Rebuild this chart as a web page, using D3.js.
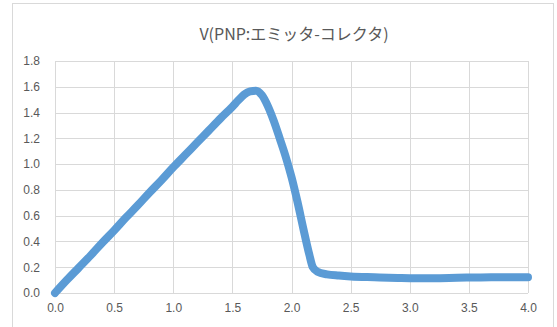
<!DOCTYPE html>
<html>
<head>
<meta charset="utf-8">
<script src="https://cdn.jsdelivr.net/npm/d3@7/dist/d3.min.js"></script>
<style>
  html, body { margin: 0; padding: 0; background: #fff; }
  svg { display: block; }
</style>
</head>
<body>
<script>
// Emitter-collector voltage of the PNP transistor vs. sweep value
const sweepX = [0.0, 0.1, 0.2, 0.3, 0.4, 0.5, 0.6, 0.7, 0.8, 0.9, 1.0, 1.1, 1.2, 1.3, 1.4, 1.5,
  1.55, 1.6, 1.65, 1.7, 1.75, 1.8, 1.85, 1.9, 1.95, 2.0, 2.05, 2.1, 2.15, 2.18, 2.22, 2.3,
  2.4, 2.5, 2.7, 2.9, 3.0, 3.2, 3.4, 3.6, 3.8, 4.0];
const vEC = [0.0, 0.10, 0.195, 0.29, 0.39, 0.485, 0.585, 0.68, 0.78, 0.875, 0.975, 1.07, 1.165, 1.26, 1.355, 1.445,
  1.495, 1.54, 1.565, 1.57, 1.535, 1.45, 1.335, 1.20, 1.06, 0.90, 0.71, 0.50, 0.30, 0.20, 0.165, 0.145,
  0.135, 0.128, 0.122, 0.117, 0.115, 0.115, 0.118, 0.121, 0.122, 0.123];
const xTicks = [0.0, 0.5, 1.0, 1.5, 2.0, 2.5, 3.0, 3.5, 4.0];
const yTicks = [0.0, 0.2, 0.4, 0.6, 0.8, 1.0, 1.2, 1.4, 1.6, 1.8];
const titleText = "V(PNP:エミッタ-コレクタ)";

const W = 557, H = 327;
const plot = { left: 55, right: 528, top: 61, bottom: 293 };

const svg = d3.select("body").append("svg").attr("width", W).attr("height", H);

// chart frame
svg.append("rect")
  .attr("x", 12.5).attr("y", 3.5).attr("width", 541).attr("height", 340)
  .attr("fill", "#fff").attr("stroke", "#d9d9d9").attr("stroke-width", 1);

const x = d3.scaleLinear().domain([0, 4]).range([plot.left, plot.right]);
const y = d3.scaleLinear().domain([0, 1.8]).range([plot.bottom, plot.top]);

// vertical gridlines + x tick labels
const xAxis = d3.axisBottom(x).tickValues(xTicks).tickFormat(d3.format(".1f"))
  .tickSize(-(plot.bottom - plot.top)).tickPadding(10);
const gx = svg.append("g").attr("transform", `translate(0,${plot.bottom})`).call(xAxis);

// horizontal gridlines + y tick labels
const yAxis = d3.axisLeft(y).tickValues(yTicks).tickFormat(d3.format(".1f"))
  .tickSize(-(plot.right - plot.left)).tickPadding(15);
const gy = svg.append("g").attr("transform", `translate(${plot.left},0)`).call(yAxis);

[gx, gy].forEach(g => {
  g.select(".domain").remove();
  g.selectAll(".tick line").attr("stroke", "#d9d9d9").attr("stroke-width", 1)
    .attr("shape-rendering", "crispEdges");
  g.selectAll(".tick text")
    .attr("fill", "#595959")
    .style("font-family", "'Liberation Sans', Arial, sans-serif")
    .style("font-size", "12px");
});

// data line
const pts = sweepX.map((v, i) => [v, vEC[i]]);
const line = d3.line().x(d => x(d[0])).y(d => y(d[1])).curve(d3.curveMonotoneX);
svg.append("path")
  .datum(pts)
  .attr("d", line)
  .attr("fill", "none")
  .attr("stroke", "#5b9bd5")
  .attr("stroke-width", 8)
  .attr("stroke-linecap", "round")
  .attr("stroke-linejoin", "round");

// title
svg.append("text")
  .attr("x", 294).attr("y", 40)
  .attr("text-anchor", "middle")
  .attr("fill", "#595959")
  .style("font-family", "'Noto Sans CJK JP', 'Noto Sans', sans-serif")
  .style("font-size", "16px")
  .text(titleText);
</script>
</body>
</html>
